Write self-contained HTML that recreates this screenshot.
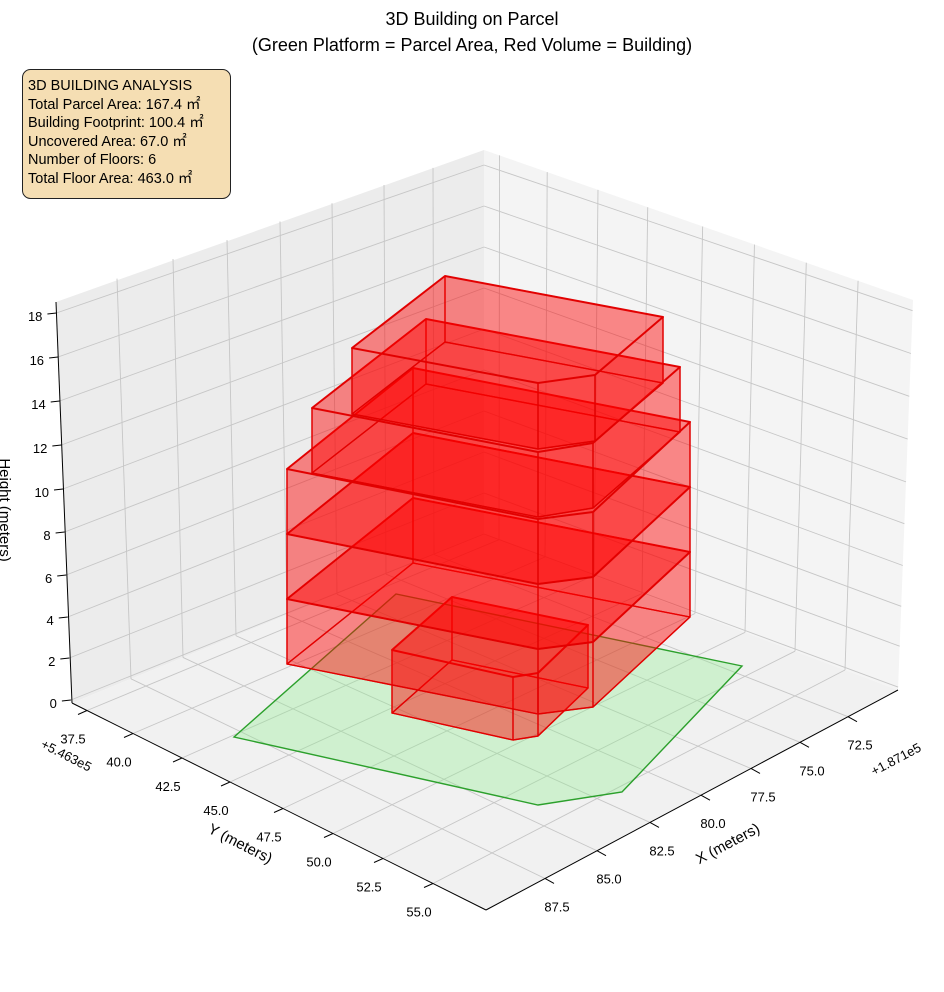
<!DOCTYPE html>
<html><head><meta charset="utf-8"><style>
body{margin:0;background:#fff}
svg{display:block;font-family:"Liberation Sans",sans-serif}
</style></head><body>
<svg id="s" width="944" height="992" viewBox="0 0 944 992" xmlns="http://www.w3.org/2000/svg">
<polygon points="56,302 484,150 484,534 72,703" fill="#ececec"/>
<polygon points="484,150 913,300 898,690 484,534" fill="#f4f4f4"/>
<polygon points="72,703 484,534 898,690 486,910" fill="#f1f1f1"/>
<g id="grid" stroke="#c6c6c6" stroke-width="0.9" fill="none"></g>
<g id="axes" stroke="#000" stroke-width="1" fill="none">
<line x1="72" y1="703" x2="56" y2="302"/>
<line x1="72" y1="703" x2="486" y2="910"/>
<line x1="486" y1="910" x2="898" y2="690"/>
</g>
<g id="ticks" font-size="13" fill="#000"></g>
<g id="bld"></g>
<text x="472" y="25" font-size="18" text-anchor="middle">3D Building on Parcel</text>
<text x="472" y="51" font-size="18" text-anchor="middle">(Green Platform = Parcel Area, Red Volume = Building)</text>
<rect x="22.5" y="69.5" width="208" height="129" rx="8" fill="#f5deb3" stroke="#222" stroke-width="1"/>
<g font-size="14.5" fill="#000">
<text x="28" y="90">3D BUILDING ANALYSIS</text>
<text x="28" y="109">Total Parcel Area: 167.4 ㎡</text>
<text x="28" y="127">Building Footprint: 100.4 ㎡</text>
<text x="28" y="146">Uncovered Area: 67.0 ㎡</text>
<text x="28" y="164">Number of Floors: 6</text>
<text x="28" y="183">Total Floor Area: 463.0 ㎡</text>
</g>
<text transform="translate(0,510) rotate(90)" font-size="15" text-anchor="middle">Height (meters)</text>
<text transform="translate(238,848) rotate(27)" font-size="15" text-anchor="middle">Y (meters)</text>
<text transform="translate(730,848) rotate(-28)" font-size="15" text-anchor="middle">X (meters)</text>
<text transform="translate(40,747) rotate(27)" font-size="13">+5.463e5</text>
<text transform="translate(874,776) rotate(-28)" font-size="13">+1.871e5</text>
</svg>
<script>
var NS="http://www.w3.org/2000/svg";
function el(p,t,a,txt){var e=document.createElementNS(NS,t);for(var k in a)e.setAttribute(k,a[k]);if(txt)e.textContent=txt;p.appendChild(e);return e;}
var g=document.getElementById('grid'),tk=document.getElementById('ticks'),ax=document.getElementById('axes');
function L(p,x1,y1,x2,y2){el(p,'line',{x1:x1,y1:y1,x2:x2,y2:y2});}
var zl=[703,661,620,578,535,492,448,404,360,316];
for(var i=0;i<10;i++){var yl=zl[i]-3;var xl=71-(703-yl)/401*15;var yb=534-2*i*20.5;var yr=690-(703-yl)*390/401;var xr=898+(703-yl)/401*15;
L(g,xl,yl,484,yb);L(g,484,yb,xr,yr);L(ax,xl,yl,xl-9,yl+1);
el(tk,'text',{x:xl-14,y:zl[i]+5,'text-anchor':'end'},String(2*i));}
var tx=[117,173,227,280,332,384,433],bx=[131,183,236,287,337,386,434],xlab=['87.5','85.0','82.5','80.0','77.5','75.0','72.5'];
for(var i=0;i<7;i++){var by=703-(bx[i]-72)*169/412;var ty=300-(tx[i]-56)*150/428;L(g,tx[i],ty,bx[i],by);
var t=(bx[i]-72)/412;var qx=486+412*t,qy=910-220*t;L(g,bx[i],by,qx,qy);L(ax,qx,qy,qx+9,qy+5);
el(tk,'text',{x:qx+12,y:qy+33,'text-anchor':'middle'},xlab[i]);}
var yx=[87,133,182,230,283,333,383,433],ylab=['37.5','40.0','42.5','45.0','47.5','50.0','52.5','55.0'];
for(var i=0;i<8;i++){var py=703+(yx[i]-72)*0.5;var t=(yx[i]-72)/414;var sx=484+414*t,sy=534+156*t;var tx2=484+429*t,ty2=150+150*t;
L(g,yx[i],py,sx,sy);L(g,sx,sy,tx2,ty2);L(ax,yx[i],py,yx[i]-9,py+4);
el(tk,'text',{x:yx[i]-14,y:py+33,'text-anchor':'middle'},ylab[i]);}
var b=document.getElementById('bld');
el(b,'polygon',{points:'234,737 396,594 742,666 622,792 538,805',fill:'rgba(144,238,144,0.35)',stroke:'#2ca02c','stroke-width':1.4});
function prism(pts,h){
 var bot=pts.map(function(p){return [p[0],p[1]+h];});
 function poly(a,w){el(b,'polygon',{points:a.map(function(p){return p.join(',');}).join(' '),fill:'rgba(255,0,0,0.26)',stroke:'rgba(225,0,0,0.95)','stroke-width':w,'stroke-linejoin':'round'});}
 poly(bot,1.4);
 for(var i=0;i<pts.length;i++){var j=(i+1)%pts.length;poly([pts[i],pts[j],bot[j],bot[i]],1.3);}
 poly(pts,2);
}
function sh(pts,d){return pts.map(function(p){return [p[0],p[1]+d];});}
prism([[452,597],[588,625],[538,673],[513,677],[392,650]],63);
var big=[[413,368],[690,422],[593,512],[538,519],[287,469]];
prism(sh(big,130),65);prism(sh(big,65),65);prism(big,65);
prism([[426,319],[680,367],[593,443],[538,452],[312,408]],65);
prism([[445,276],[663,317],[595,375],[538,383],[352,348]],66);
</script>
</body></html>
